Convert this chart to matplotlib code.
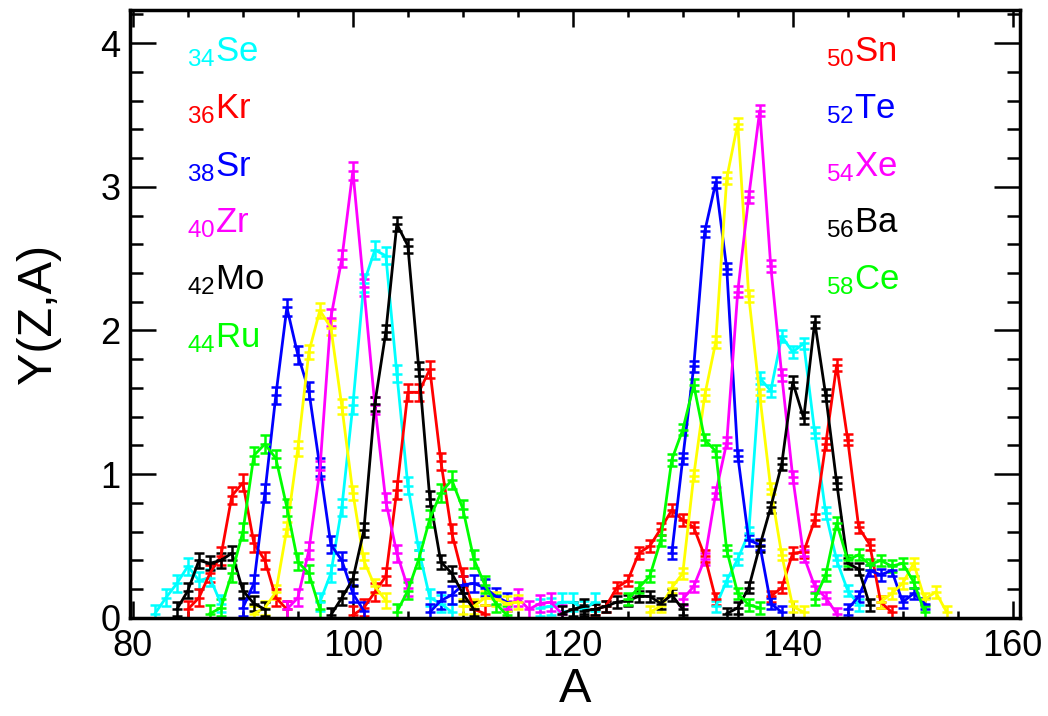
import numpy as np
import matplotlib.pyplot as plt
from matplotlib.ticker import MultipleLocator

plt.rcParams['font.family'] = ['Liberation Sans', 'DejaVu Sans']
plt.rcParams['mathtext.default'] = 'regular'

nan = np.nan

# light fragments (first mass number, yields)
se_a0 = 82
se_y = [0.03, 0.14, 0.24, 0.36, 0.26, 0.28, 0.10, nan, nan, nan, nan, nan, nan, nan, nan,
        0.11, 0.31, 0.77, 1.48, 2.33, 2.56, 2.52, 1.70, 0.92, 0.47, 0.14, 0.10, 0.04,
        nan, nan, nan, nan, nan, nan, nan, 0.07, 0.08, 0.11, 0.11, 0.06, 0.11]
kr_a0 = 85
kr_y = [0.06, 0.14, 0.31, 0.43, 0.85, 0.94, 0.52, 0.40, 0.14, 0.06, nan, nan, nan, nan, nan,
        0.02, 0.07, 0.18, 0.29, 0.89, 1.57, 1.57, 1.73, 1.09, 0.59, 0.29, 0.06, 0.03]
sr_a0 = 90
sr_y = [0.07, 0.24, 0.87, 1.55, 2.16, 1.83, 1.58, 1.05, 0.51, 0.40, 0.17, 0.05,
        nan, nan, nan, nan, nan, 0.04, 0.12, 0.16, 0.23, 0.24, 0.21, 0.15, 0.11]
zr_a0 = 94
zr_y = [0.06, 0.14, 0.47, 1.03, 2.09, 2.50, 3.11, 2.30, 1.48, 0.81, 0.45, 0.21,
        nan, nan, nan, nan, nan, nan, nan, nan, 0.06, 0.14, 0.06, 0.10, 0.11, 0.03]
mo_a0 = 84
mo_y = [0.06, 0.19, 0.40, 0.38, 0.40, 0.45, 0.19, 0.10, 0.06, nan, nan, nan, nan, nan,
        0.02, 0.14, 0.27, 0.61, 1.49, 1.99, 2.74, 2.59, 1.73, 0.83, 0.39, 0.31, 0.17, 0.06,
        nan, nan, nan, nan, nan, nan, nan, 0.03, 0.06, 0.08]
ru_a0 = 87
ru_y = [0.03, 0.07, 0.31, 0.60, 1.13, 1.21, 1.11, 0.77, 0.39, 0.31, 0.06,
        nan, nan, nan, nan, nan, nan, 0.04, 0.19, 0.41, 0.69, 0.87, 0.96, 0.76, 0.41,
        0.23, 0.10, 0.02]
yl_a0 = 91
yl_y = [0.03, 0.07, 0.18, 0.62, 1.18, 1.85, 2.14, 2.02, 1.47, 0.87, 0.40, 0.22, 0.12,
        nan, nan, nan, nan, nan, nan, 0.08, 0.08, 0.14, 0.13, 0.10, 0.11]

# heavy fragments
sn_a0 = 122
sn_y = [0.06, 0.08, 0.21, 0.26, 0.45, 0.50, 0.62, 0.75, 0.68, 0.63, 0.43, 0.13,
        nan, nan, nan, nan, 0.15, 0.21, 0.45, 0.46, 0.68, 1.21, 1.76, 1.24, 0.63, 0.51,
        0.11, 0.04]
te_a0 = 129
te_y = [0.45, 1.11, 1.75, 2.69, 3.03, 2.43, 1.13, 0.54, 0.51, 0.10, 0.04,
        nan, nan, nan, nan, nan, 0.06, 0.15, 0.33, 0.30, 0.33, 0.11, 0.17, 0.10]
xe_a0 = 130
xe_y = [0.13, 0.22, 0.41, 0.87, 1.22, 2.27, 2.93, 3.53, 2.45, 1.69, 0.98, 0.43, 0.22,
        0.14, 0.03]
ba_a0 = 121
ba_y = [0.05, 0.06, 0.08, 0.11, 0.12, 0.15, 0.15, 0.10, 0.16, 0.06, nan, nan, nan,
        0.03, 0.07, 0.21, 0.50, 0.77, 1.07, 1.64, 1.39, 2.06, 1.55, 0.94, 0.38, 0.34, 0.09]
ce_a0 = 125
ce_y = [0.13, 0.21, 0.29, 0.54, 1.10, 1.31, 1.62, 1.24, 1.16, 0.47, 0.17, 0.09, 0.07,
        nan, nan, nan, nan, 0.13, 0.30, 0.66, 0.40, 0.44, 0.37, 0.40, 0.36, 0.38, 0.25,
        0.04]
yh_a0 = 127
yh_y = [0.04, 0.08, 0.21, 0.31, 0.99, 1.55, 1.92, 3.06, 3.44, 2.24, 1.55, 0.90, 0.44,
        0.08, 0.04, nan, nan, nan, nan, nan, nan, 0.11, 0.17, 0.24, 0.38, 0.13, 0.18, 0.04]
ch_a0 = 133
ch_y = [0.08, 0.26, 0.41, 0.59, 1.67, 1.58, 1.96, 1.85, 1.91, 1.29, 0.73, 0.40, 0.19, 0.09]

series = [
    (se_a0, se_y, '#00ffff', 0.06),
    (kr_a0, kr_y, '#ff0000', 0.06),
    (sr_a0, sr_y, '#0000ff', 0.06),
    (zr_a0, zr_y, '#ff00ff', 0.06),
    (yl_a0, yl_y, '#ffff00', 0.05),
    (mo_a0, mo_y, '#000000', 0.05),
    (ru_a0, ru_y, '#00ff00', 0.06),
    (ch_a0, ch_y, '#00ffff', 0.04),
    (sn_a0, sn_y, '#ff0000', 0.04),
    (te_a0, te_y, '#0000ff', 0.04),
    (yh_a0, yh_y, '#ffff00', 0.04),
    (xe_a0, xe_y, '#ff00ff', 0.04),
    (ba_a0, ba_y, '#000000', 0.04),
    (ce_a0, ce_y, '#00ff00', 0.04),
]

left_z = ['34', '36', '38', '40', '42', '44']
left_el = ['Se', 'Kr', 'Sr', 'Zr', 'Mo', 'Ru']
left_col = ['#00ffff', '#ff0000', '#0000ff', '#ff00ff', '#000000', '#00ff00']
right_z = ['50', '52', '54', '56', '58']
right_el = ['Sn', 'Te', 'Xe', 'Ba', 'Ce']
right_col = ['#ff0000', '#0000ff', '#ff00ff', '#000000', '#00ff00']
label_y = [3.875, 3.48, 3.07, 2.68, 2.29, 1.88]

fig = plt.figure(figsize=(10.48, 7.16), dpi=100)
ax = fig.add_axes([0.124, 0.137, 0.849, 0.849])

for a0, y, c, e in series:
    y = np.array(y, dtype=float)
    x = np.arange(a0, a0 + len(y))
    ax.errorbar(x, y, yerr=e, color=c, lw=2, elinewidth=1.8, capsize=3.5,
                capthick=1.8, marker='_', ms=7, mew=1.8)

for i in range(len(left_z)):
    ax.text(84.9, label_y[i], '$_{%s}$%s' % (left_z[i], left_el[i]), color=left_col[i],
            fontsize=25, va='baseline', ha='left')
for i in range(len(right_z)):
    ax.text(143.0, label_y[i], '$_{%s}$%s' % (right_z[i], right_el[i]), color=right_col[i],
            fontsize=25, va='baseline', ha='left')

ax.set_xlim(79.73, 160.64)
ax.set_ylim(0, 4.23)
ax.xaxis.set_major_locator(MultipleLocator(20))
ax.xaxis.set_minor_locator(MultipleLocator(5))
ax.yaxis.set_major_locator(MultipleLocator(1))
ax.yaxis.set_minor_locator(MultipleLocator(0.2))
ax.tick_params(axis='both', which='both', direction='in', top=True, right=True,
               width=1.8, labelsize=26)
ax.tick_params(axis='x', which='major', length=12, pad=8)
ax.tick_params(axis='x', which='minor', length=5)
ax.tick_params(axis='y', which='major', length=19, pad=7)
ax.tick_params(axis='y', which='minor', length=9.5)
for s in ax.spines.values():
    s.set_linewidth(2.5)

ax.set_xlabel('A', fontsize=35, labelpad=2)
ax.set_ylabel('Y(Z,A)', fontsize=35, labelpad=28)

fig.savefig('out.png', dpi=100)
